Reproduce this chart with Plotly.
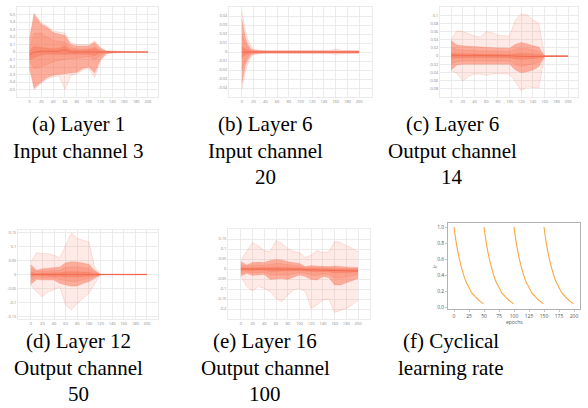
import plotly.graph_objects as go

# ---------------- data ----------------
FAN_XTICKS = [0, 20, 40, 60, 80, 100, 120, 140, 160, 180, 200]

# (a) Layer 1, input channel 3
A_EPOCHS = [0, 8, 20, 30, 40, 50, 60, 70, 80, 90, 100, 110, 120, 130, 140, 150, 160, 170, 180, 190, 200]
A_MAX = [0.18, 0.52, 0.39, 0.35, 0.28, 0.26, 0.25, 0.12, 0.10, 0.10, 0.10, 0.15, 0.06, 0.015, 0.01, 0.006, 0.003, 0.003, 0.002, 0.002, 0.002]
A_MIN = [-0.22, -0.50, -0.42, -0.36, -0.33, -0.32, -0.50, -0.31, -0.29, -0.24, -0.22, -0.34, -0.12, -0.025, -0.01, -0.006, -0.003, -0.003, -0.002, -0.002, -0.002]
A_P95 = [0.16, 0.50, 0.37, 0.33, 0.26, 0.24, 0.22, 0.10, 0.08, 0.08, 0.08, 0.13, 0.05, 0.012, 0.008, 0.005, 0.002, 0.002, 0.001, 0.001, 0.001]
A_P05 = [-0.20, -0.48, -0.40, -0.34, -0.31, -0.30, -0.29, -0.28, -0.27, -0.22, -0.20, -0.28, -0.10, -0.02, -0.008, -0.005, -0.002, -0.002, -0.001, -0.001, -0.001]
A_P80 = [0.05, 0.25, 0.25, 0.20, 0.15, 0.14, 0.13, 0.06, 0.04, 0.04, 0.04, 0.07, 0.02, 0.006, 0.004, 0.003, 0.001, 0.001, 0.001, 0.001, 0.001]
A_P20 = [-0.12, -0.22, -0.20, -0.16, -0.13, -0.11, -0.10, -0.10, -0.08, -0.07, -0.06, -0.10, -0.04, -0.01, -0.004, -0.003, -0.001, -0.001, -0.001, -0.001, -0.001]
A_P60 = [0.02, 0.08, 0.06, 0.05, 0.04, 0.05, 0.08, 0.03, 0.02, 0.02, 0.03, 0.05, 0.01, 0.003, 0.002, 0.001, 0.0005, 0.0005, 0.0005, 0.0005, 0.0005]
A_P40 = [-0.10, -0.08, -0.04, -0.03, -0.03, -0.03, -0.03, -0.03, -0.02, -0.02, -0.03, -0.05, -0.01, -0.003, -0.002, -0.001, -0.0005, -0.0005, -0.0005, -0.0005, -0.0005]
A_MED = [-0.04, 0.00, 0.01, 0.01, 0.00, 0.01, 0.03, 0.00, 0.00, 0.00, 0.00, 0.00, 0.00, 0.0, 0.0, 0.0, 0.0, 0.0, 0.0, 0.0, 0.0]
A_YTICKS = [-0.5, -0.4, -0.3, -0.2, -0.1, 0, 0.1, 0.2, 0.3, 0.4, 0.5]
A_YLABELS = ["-0.5", "-0.4", "-0.3", "-0.2", "-0.1", "0", "0.1", "0.2", "0.3", "0.4", "0.5"]

# (b) Layer 6, input channel 20
B_EPOCHS = [0, 3, 6, 10, 15, 20, 30, 40, 50, 60, 70, 80, 90, 100, 110, 120, 130, 140, 150, 160, 170, 180, 190, 200]
B_MAX = [0.045, 0.033, 0.023, 0.014, 0.007, 0.003, 0.0018, 0.0015, 0.0015, 0.0016, 0.0018, 0.0016, 0.0015, 0.0015, 0.0015, 0.0016, 0.0015, 0.0016, 0.0018, 0.0032, 0.0018, 0.0016, 0.0015, 0.0015]
B_MIN = [-0.042, -0.031, -0.021, -0.013, -0.006, -0.003, -0.0018, -0.0015, -0.0015, -0.0016, -0.0018, -0.0016, -0.0015, -0.0015, -0.0015, -0.0016, -0.0015, -0.0016, -0.0018, -0.0025, -0.0018, -0.0016, -0.0015, -0.0015]
B_P95 = [0.036, 0.025, 0.016, 0.009, 0.004, 0.002, 0.0012, 0.0012, 0.0012, 0.0012, 0.0012, 0.0012, 0.0012, 0.0012, 0.0012, 0.0012, 0.0012, 0.0012, 0.0012, 0.0014, 0.0012, 0.0012, 0.0012, 0.0012]
B_P05 = [-0.035, -0.024, -0.015, -0.009, -0.004, -0.002, -0.0012, -0.0012, -0.0012, -0.0012, -0.0012, -0.0012, -0.0012, -0.0012, -0.0012, -0.0012, -0.0012, -0.0012, -0.0012, -0.0013, -0.0012, -0.0012, -0.0012, -0.0012]
B_P80 = [0.020, 0.014, 0.009, 0.005, 0.002, 0.001, 0.0008, 0.0008, 0.0008, 0.0008, 0.0008, 0.0008, 0.0008, 0.0008, 0.0008, 0.0008, 0.0008, 0.0008, 0.0008, 0.0009, 0.0008, 0.0008, 0.0008, 0.0008]
B_P20 = [-0.020, -0.013, -0.009, -0.005, -0.002, -0.001, -0.0008, -0.0008, -0.0008, -0.0008, -0.0008, -0.0008, -0.0008, -0.0008, -0.0008, -0.0008, -0.0008, -0.0008, -0.0008, -0.0009, -0.0008, -0.0008, -0.0008, -0.0008]
B_P60 = [0.006, 0.004, 0.003, 0.002, 0.0008, 0.0004, 0.0003, 0.0003, 0.0003, 0.0003, 0.0003, 0.0003, 0.0003, 0.0003, 0.0003, 0.0003, 0.0003, 0.0003, 0.0003, 0.0003, 0.0003, 0.0003, 0.0003, 0.0003]
B_P40 = [-0.006, -0.004, -0.003, -0.002, -0.0008, -0.0004, -0.0003, -0.0003, -0.0003, -0.0003, -0.0003, -0.0003, -0.0003, -0.0003, -0.0003, -0.0003, -0.0003, -0.0003, -0.0003, -0.0003, -0.0003, -0.0003, -0.0003, -0.0003]
B_MED = [0.0, 0.0, 0.0, 0.0, 0.0, 0.0, 0.0, 0.0, 0.0, 0.0, 0.0, 0.0, 0.0, 0.0, 0.0, 0.0, 0.0, 0.0, 0.0, 0.0, 0.0, 0.0, 0.0, 0.0]
B_YTICKS = [-0.04, -0.03, -0.02, -0.01, 0, 0.01, 0.02, 0.03, 0.04]
B_YLABELS = ["-0.04", "-0.03", "-0.02", "-0.01", "0", "0.01", "0.02", "0.03", "0.04"]

# (c) Layer 6, output channel 14
C_EPOCHS = [0, 10, 20, 30, 40, 50, 60, 70, 80, 90, 100, 110, 120, 130, 140, 150, 160, 170, 180, 190, 200]
C_MAX = [0.041, 0.062, 0.060, 0.055, 0.049, 0.046, 0.060, 0.057, 0.051, 0.050, 0.049, 0.088, 0.103, 0.101, 0.088, 0.080, 0.001, 0.001, 0.001, 0.001, 0.001]
C_MIN = [-0.036, -0.042, -0.061, -0.049, -0.044, -0.044, -0.047, -0.044, -0.043, -0.043, -0.044, -0.063, -0.085, -0.075, -0.077, -0.077, -0.001, -0.001, -0.001, -0.001, -0.001]
C_P95 = [0.038, 0.027, 0.025, 0.024, 0.023, 0.022, 0.021, 0.021, 0.020, 0.020, 0.019, 0.029, 0.033, 0.030, 0.025, 0.022, 0.001, 0.001, 0.001, 0.001, 0.001]
C_P05 = [-0.034, -0.022, -0.020, -0.020, -0.020, -0.019, -0.019, -0.019, -0.020, -0.020, -0.020, -0.034, -0.041, -0.038, -0.034, -0.026, -0.001, -0.001, -0.001, -0.001, -0.001]
C_P80 = [0.022, 0.016, 0.015, 0.014, 0.013, 0.013, 0.012, 0.012, 0.012, 0.011, 0.011, 0.017, 0.019, 0.018, 0.015, 0.012, 0.0005, 0.0005, 0.0005, 0.0005, 0.0005]
C_P20 = [-0.020, -0.013, -0.012, -0.012, -0.012, -0.011, -0.011, -0.011, -0.012, -0.012, -0.012, -0.020, -0.025, -0.022, -0.020, -0.015, -0.0005, -0.0005, -0.0005, -0.0005, -0.0005]
C_P60 = [0.008, 0.006, 0.006, 0.005, 0.005, 0.005, 0.005, 0.004, 0.004, 0.004, 0.004, 0.006, 0.007, 0.006, 0.005, 0.004, 0.0002, 0.0002, 0.0002, 0.0002, 0.0002]
C_P40 = [-0.006, -0.004, -0.004, -0.004, -0.004, -0.004, -0.004, -0.004, -0.004, -0.004, -0.004, -0.007, -0.008, -0.007, -0.006, -0.005, -0.0002, -0.0002, -0.0002, -0.0002, -0.0002]
C_MED = [0.002, 0.002, 0.002, 0.001, 0.001, 0.001, 0.001, 0.001, 0.001, 0.001, 0.001, 0.0, -0.001, -0.001, -0.001, -0.001, 0.0, 0.0, 0.0, 0.0, 0.0]
C_YTICKS = [-0.08, -0.06, -0.04, -0.02, 0, 0.02, 0.04, 0.06, 0.08, 0.1]
C_YLABELS = ["-0.08", "-0.06", "-0.04", "-0.02", "0", "0.02", "0.04", "0.06", "0.08", "0.1"]

# (d) Layer 12, output channel 50
D_EPOCHS = [0, 10, 20, 30, 40, 50, 60, 70, 80, 90, 100, 110, 120, 130, 140, 150, 160, 170, 180, 190, 200]
D_MAX = [0.045, 0.079, 0.075, 0.075, 0.069, 0.060, 0.105, 0.150, 0.129, 0.123, 0.117, 0.027, 0.001, 0.001, 0.001, 0.001, 0.001, 0.001, 0.001, 0.001, 0.001]
D_MIN = [-0.038, -0.062, -0.080, -0.062, -0.055, -0.044, -0.110, -0.127, -0.104, -0.086, -0.068, -0.032, -0.001, -0.001, -0.001, -0.001, -0.001, -0.001, -0.001, -0.001, -0.001]
D_P95 = [0.036, 0.015, 0.021, 0.023, 0.025, 0.027, 0.042, 0.046, 0.045, 0.042, 0.037, 0.015, 0.001, 0.001, 0.001, 0.001, 0.001, 0.001, 0.001, 0.001, 0.001]
D_P05 = [-0.036, -0.018, -0.020, -0.020, -0.020, -0.032, -0.038, -0.042, -0.041, -0.032, -0.026, -0.014, -0.001, -0.001, -0.001, -0.001, -0.001, -0.001, -0.001, -0.001, -0.001]
D_P80 = [0.022, 0.010, 0.012, 0.013, 0.014, 0.015, 0.025, 0.028, 0.027, 0.025, 0.022, 0.009, 0.0005, 0.0005, 0.0005, 0.0005, 0.0005, 0.0005, 0.0005, 0.0005, 0.0005]
D_P20 = [-0.022, -0.011, -0.012, -0.012, -0.012, -0.018, -0.022, -0.025, -0.024, -0.019, -0.015, -0.008, -0.0005, -0.0005, -0.0005, -0.0005, -0.0005, -0.0005, -0.0005, -0.0005, -0.0005]
D_P60 = [0.008, 0.004, 0.005, 0.005, 0.005, 0.006, 0.010, 0.011, 0.010, 0.009, 0.008, 0.003, 0.0002, 0.0002, 0.0002, 0.0002, 0.0002, 0.0002, 0.0002, 0.0002, 0.0002]
D_P40 = [-0.008, -0.004, -0.005, -0.005, -0.005, -0.007, -0.009, -0.010, -0.009, -0.008, -0.006, -0.003, -0.0002, -0.0002, -0.0002, -0.0002, -0.0002, -0.0002, -0.0002, -0.0002, -0.0002]
D_MED = [0.0, 0.0, 0.0, 0.0, 0.0, 0.0, 0.001, 0.001, 0.001, 0.001, 0.001, 0.0, 0.0, 0.0, 0.0, 0.0, 0.0, 0.0, 0.0, 0.0, 0.0]
D_YTICKS = [-0.15, -0.1, -0.05, 0, 0.05, 0.1, 0.15]
D_YLABELS = ["-0.15", "-0.1", "-0.05", "0", "0.05", "0.1", "0.15"]

# (e) Layer 16, output channel 100
E_EPOCHS = [0, 10, 20, 30, 40, 50, 60, 70, 80, 90, 100, 110, 120, 130, 140, 150, 160, 170, 180, 190, 200]
E_MAX = [0.045, 0.092, 0.133, 0.115, 0.092, 0.087, 0.142, 0.128, 0.103, 0.087, 0.082, 0.057, 0.070, 0.092, 0.082, 0.085, 0.137, 0.133, 0.120, 0.103, 0.087]
E_MIN = [-0.038, -0.088, -0.110, -0.088, -0.097, -0.113, -0.147, -0.163, -0.130, -0.105, -0.097, -0.113, -0.197, -0.180, -0.155, -0.150, -0.217, -0.208, -0.197, -0.180, -0.155]
E_P95 = [0.037, 0.020, 0.032, 0.035, 0.032, 0.042, 0.048, 0.045, 0.037, 0.032, 0.028, 0.012, 0.017, 0.015, 0.012, 0.012, 0.015, 0.012, 0.008, 0.008, 0.007]
E_P05 = [-0.035, -0.022, -0.032, -0.030, -0.027, -0.052, -0.048, -0.047, -0.052, -0.042, -0.030, -0.038, -0.052, -0.055, -0.038, -0.042, -0.080, -0.080, -0.068, -0.055, -0.047]
E_P80 = [0.022, 0.012, 0.018, 0.020, 0.018, 0.024, 0.028, 0.026, 0.021, 0.018, 0.015, 0.006, 0.008, 0.007, 0.005, 0.005, 0.006, 0.005, 0.003, 0.003, 0.003]
E_P20 = [-0.022, -0.014, -0.020, -0.018, -0.016, -0.030, -0.030, -0.028, -0.030, -0.025, -0.018, -0.022, -0.030, -0.032, -0.024, -0.026, -0.045, -0.045, -0.040, -0.033, -0.028]
E_P60 = [0.008, 0.004, 0.006, 0.007, 0.006, 0.008, 0.010, 0.009, 0.007, 0.006, 0.005, 0.001, 0.002, 0.001, 0.0, 0.0, -0.002, -0.003, -0.004, -0.004, -0.004]
E_P40 = [-0.008, -0.005, -0.007, -0.006, -0.005, -0.012, -0.011, -0.010, -0.011, -0.009, -0.007, -0.010, -0.013, -0.014, -0.012, -0.013, -0.020, -0.020, -0.018, -0.016, -0.014]
E_MED = [0.0, 0.0, 0.0, 0.001, 0.001, -0.002, 0.0, 0.0, -0.002, -0.002, -0.001, -0.004, -0.005, -0.006, -0.006, -0.006, -0.010, -0.011, -0.011, -0.010, -0.009]
E_YTICKS = [-0.2, -0.15, -0.1, -0.05, 0, 0.05, 0.1, 0.15]
E_YLABELS = ["-0.2", "-0.15", "-0.1", "-0.05", "0", "0.05", "0.1", "0.15"]

# (f) cyclical learning rate
F_CYCLE_STARTS = [0, 50, 100, 150]
F_CYCLE_T = [0, 3, 6, 10, 15, 20, 25, 30, 35, 40, 45, 49]
F_CYCLE_LR = [1.0, 0.84, 0.71, 0.57, 0.43, 0.32, 0.25, 0.18, 0.14, 0.10, 0.07, 0.045]
F_XTICKS = [0, 25, 50, 75, 100, 125, 150, 175, 200]
F_YTICKS = [0.0, 0.2, 0.4, 0.6, 0.8, 1.0]
F_YLABELS = ["0.0", "0.2", "0.4", "0.6", "0.8", "1.0"]

# captions: one list of lines per panel
CAPTIONS = [
    ["(a) Layer 1", "Input channel 3"],
    ["(b) Layer 6", "Input channel", "20"],
    ["(c) Layer 6", "Output channel", "14"],
    ["(d) Layer 12", "Output channel", "50"],
    ["(e) Layer 16", "Output channel", "100"],
    ["(f) Cyclical", "learning rate"],
]

# ---------------- layout geometry (pixels) ----------------
W, H = 588, 408
FRAMES = [
    (17, 158, 7, 97),
    (229, 372, 7, 97),
    (440, 578, 7, 97),
    (18, 158, 230, 319),
    (228, 370, 229, 319),
    (448, 580, 223, 309),
]
XRANGES = [(-21, 217), (-22, 222), (-19, 217), (-22, 219), (-22, 220.5), (-10, 210)]
YRANGES = [(-0.6, 0.6), (-0.05, 0.05), (-0.1, 0.12), (-0.16, 0.16), (-0.25, 0.2), (-0.018, 1.05)]
CAP_X = [78, 265, 452, 78, 265, 451]
CAP_LINE1 = [124, 124, 124, 341, 341, 341]
CAP_STEP = 26.5

fig = go.Figure()

FILL_OUTER = "rgba(250,125,100,0.16)"
FILL_B1 = "rgba(250,112,82,0.50)"
FILL_B2 = "rgba(250,112,82,0.22)"
FILL_B3 = "rgba(246,100,70,0.35)"
EDGE = "rgba(240,100,70,0.35)"
MED = "rgba(240,95,65,0.85)"


def ax_ids(n):
    return ("x" if n == 1 else "x%d" % n), ("y" if n == 1 else "y%d" % n)


def add_band(n, x, lo, hi, fill):
    xa, ya = ax_ids(n)
    fig.add_trace(go.Scatter(x=x, y=lo, mode="lines", line=dict(width=0.5, color=EDGE),
                             xaxis=xa, yaxis=ya, showlegend=False, hoverinfo="skip"))
    fig.add_trace(go.Scatter(x=x, y=hi, mode="lines", line=dict(width=0.5, color=EDGE),
                             fill="tonexty", fillcolor=fill,
                             xaxis=xa, yaxis=ya, showlegend=False, hoverinfo="skip"))


def add_fan(n, x, mn, mx, p05, p95, p20, p80, p40, p60, med):
    add_band(n, x, mn, mx, FILL_OUTER)
    add_band(n, x, p05, p95, FILL_B1)
    add_band(n, x, p20, p80, FILL_B2)
    add_band(n, x, p40, p60, FILL_B3)
    xa, ya = ax_ids(n)
    fig.add_trace(go.Scatter(x=x, y=med, mode="lines", line=dict(width=0.8, color=MED),
                             xaxis=xa, yaxis=ya, showlegend=False, hoverinfo="skip"))


add_fan(1, A_EPOCHS, A_MIN, A_MAX, A_P05, A_P95, A_P20, A_P80, A_P40, A_P60, A_MED)
add_fan(2, B_EPOCHS, B_MIN, B_MAX, B_P05, B_P95, B_P20, B_P80, B_P40, B_P60, B_MED)
add_fan(3, C_EPOCHS, C_MIN, C_MAX, C_P05, C_P95, C_P20, C_P80, C_P40, C_P60, C_MED)
add_fan(4, D_EPOCHS, D_MIN, D_MAX, D_P05, D_P95, D_P20, D_P80, D_P40, D_P60, D_MED)
add_fan(5, E_EPOCHS, E_MIN, E_MAX, E_P05, E_P95, E_P20, E_P80, E_P40, E_P60, E_MED)

for start in F_CYCLE_STARTS:
    fig.add_trace(go.Scatter(x=[start + t for t in F_CYCLE_T], y=F_CYCLE_LR, mode="lines",
                             line=dict(width=1.1, color="#f8a844", shape="spline"),
                             xaxis="x6", yaxis="y6", showlegend=False, hoverinfo="skip"))

YT = [(A_YTICKS, A_YLABELS), (B_YTICKS, B_YLABELS), (C_YTICKS, C_YLABELS),
      (D_YTICKS, D_YLABELS), (E_YTICKS, E_YLABELS), (F_YTICKS, F_YLABELS)]

layout = dict(width=W, height=H, margin=dict(l=0, r=0, t=0, b=0, autoexpand=False), autosize=False,
              paper_bgcolor="white", plot_bgcolor="white", showlegend=False)

for i in range(6):
    n = i + 1
    l, r, t, b = FRAMES[i]
    xk = "xaxis" if n == 1 else "xaxis%d" % n
    yk = "yaxis" if n == 1 else "yaxis%d" % n
    xa_id, ya_id = ax_ids(n)
    if n < 6:
        common = dict(showgrid=True, gridcolor="#e6e6e6", gridwidth=0.8,
                      showline=True, linecolor="#e6e6e6", linewidth=0.8, mirror=True,
                      zeroline=False, ticks="", automargin=False,
                      tickfont=dict(size=4, color="#8a8a8a"))
        layout[xk] = dict(domain=[l / W, r / W], range=list(XRANGES[i]), anchor=ya_id,
                          tickvals=FAN_XTICKS, ticktext=[str(v) for v in FAN_XTICKS], **common)
        layout[yk] = dict(domain=[1 - b / H, 1 - t / H], range=list(YRANGES[i]), anchor=xa_id,
                          tickvals=YT[i][0], ticktext=YT[i][1], **common)
    else:
        common = dict(showgrid=False, showline=True, linecolor="#a0a0a0", linewidth=0.8,
                      mirror=True, zeroline=False, ticks="outside", ticklen=2,
                      tickcolor="#a0a0a0", tickwidth=0.6, automargin=False,
                      tickfont=dict(size=5, color="#555"))
        layout[xk] = dict(domain=[l / W, r / W], range=list(XRANGES[i]), anchor=ya_id,
                          tickvals=F_XTICKS, ticktext=[str(v) for v in F_XTICKS], **common)
        layout[yk] = dict(domain=[1 - b / H, 1 - t / H], range=list(YRANGES[i]), anchor=xa_id,
                          tickvals=YT[i][0], ticktext=YT[i][1], **common)

annotations = []
for i, lines in enumerate(CAPTIONS):
    for j, line in enumerate(lines):
        yc = CAP_LINE1[i] + j * CAP_STEP
        annotations.append(dict(text=line, x=CAP_X[i] / W, y=1 - yc / H,
                                xref="paper", yref="paper", xanchor="center", yanchor="middle",
                                showarrow=False, align="center", borderpad=0,
                                font=dict(family="Liberation Serif, Times New Roman, serif",
                                          size=21, color="black")))
# axis titles of panel (f)
annotations.append(dict(text="epochs", x=514 / W, y=1 - 322 / H, xref="paper", yref="paper",
                        xanchor="center", yanchor="middle", showarrow=False, borderpad=0,
                        font=dict(size=5, color="#555")))
annotations.append(dict(text="lr", x=435 / W, y=1 - 267 / H, xref="paper", yref="paper",
                        xanchor="center", yanchor="middle", showarrow=False, textangle=-90,
                        borderpad=0, font=dict(size=5, color="#555")))
layout["annotations"] = annotations

fig.update_layout(**layout)
fig.write_html("out.html", config={"displayModeBar": False, "staticPlot": True},
               post_script="document.body.style.margin='0px';document.body.style.padding='0px';")
